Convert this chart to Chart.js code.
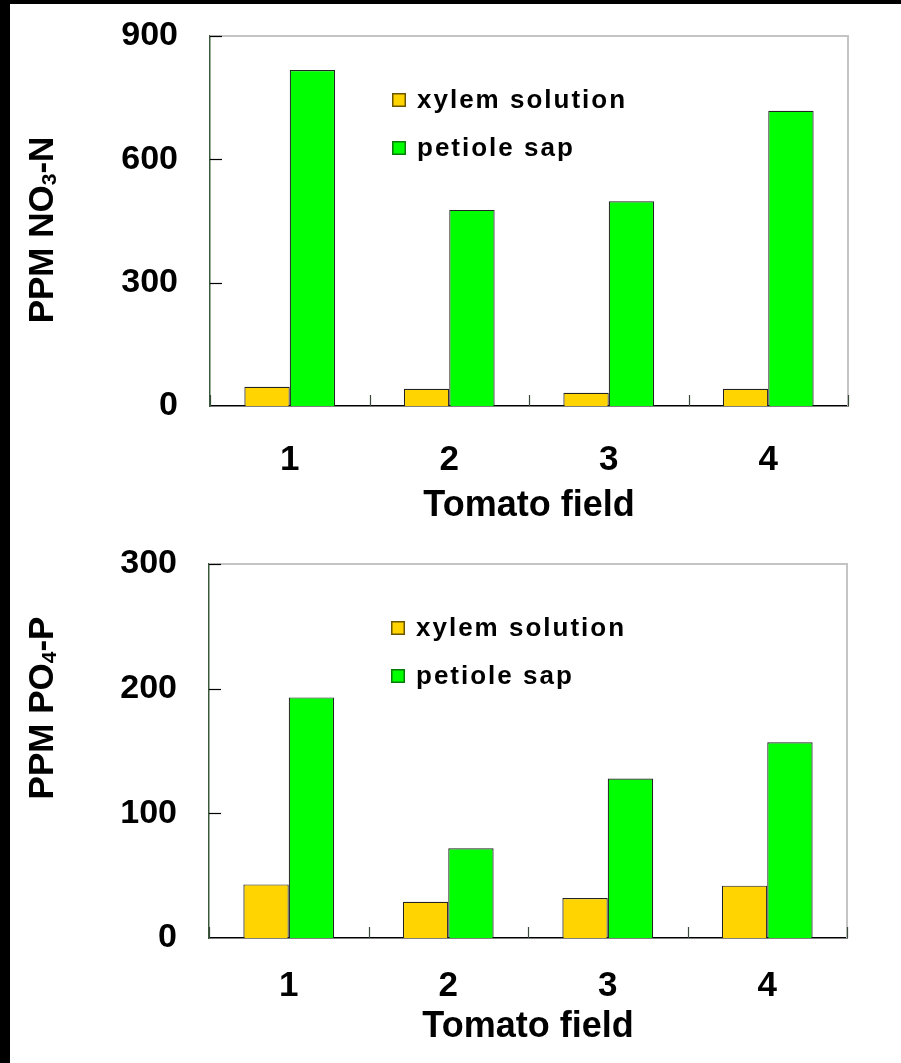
<!DOCTYPE html>
<html><head><meta charset="utf-8">
<script src="https://cdn.jsdelivr.net/npm/chart.js@4.4.1/dist/chart.umd.min.js"></script>
<style>
html,body{margin:0;padding:0;background:#000;}
#page{position:relative;width:901px;height:1063px;background:#000;overflow:hidden;}
#paper{position:absolute;left:10px;top:4px;right:0;bottom:0;background:#fff;}
canvas{position:absolute;left:0;}
#c1{top:0}
#c2{top:532px}
</style></head><body>
<div id="page"><div id="paper"></div>
<canvas id="c1" width="901" height="532"></canvas>
<canvas id="c2" width="901" height="531"></canvas>
</div>
<script>
const categories = ['1', '2', '3', '4'];
const seriesNames = ['xylem solution', 'petiole sap'];
const xylemNO3 = [47, 42, 32, 42];
const petioleNO3 = [817, 477, 498, 718];
const xylemPO4 = [43, 29, 32, 42];
const petiolePO4 = [193, 72, 128, 157];
const ticksNO3 = [0, 300, 600, 900];
const ticksPO4 = [0, 100, 200, 300];
const yTitleNO3 = ['PPM NO', '3', '-N'];
const yTitlePO4 = ['PPM PO', '4', '-P'];
const xTitle = 'Tomato field';

const FONT = "'Liberation Sans', Arial, Helvetica, sans-serif";
const colors = ['#FFD400', '#00FF00'];
const legendBorders = ['#6b5500', '#0a7a0a'];

const decor = {
  id: 'decor',
  beforeDatasetsDraw(chart, args, o) {
    const {ctx, chartArea: a} = chart;
    ctx.save();
    ctx.strokeStyle = '#c4c4c4';
    ctx.lineWidth = 2;
    ctx.beginPath();
    ctx.moveTo(a.left, a.top);
    ctx.lineTo(a.right, a.top);
    ctx.lineTo(a.right, a.bottom);
    ctx.stroke();
    ctx.restore();
  },
  afterDatasetsDraw(chart, args, o) {
    const {ctx, chartArea: a, scales} = chart;
    ctx.save();
    // y tick marks (inside)
    ctx.strokeStyle = '#000';
    ctx.lineWidth = 1.2;
    scales.y.ticks.forEach(t => {
      const py = Math.round(scales.y.getPixelForValue(t.value)) + 0.5;
      if (Math.abs(py - a.bottom) < 2) return;
      ctx.beginPath();
      ctx.moveTo(a.left, py);
      ctx.lineTo(a.left + 12, py);
      ctx.stroke();
    });
    // x tick marks between categories (pointing up)
    ctx.strokeStyle = '#3a4a3a';
    const n = chart.data.labels.length;
    const step = (scales.x.getPixelForTick(1) - scales.x.getPixelForTick(0));
    for (let i = 0; i <= n; i++) {
      const px = Math.round(scales.x.getPixelForTick(0) - step / 2 + i * step) + 0.5;
      ctx.beginPath();
      ctx.moveTo(px, a.bottom);
      ctx.lineTo(px, a.bottom - 11);
      ctx.stroke();
    }
    // legend
    chart.data.datasets.forEach((ds, i) => {
      const cy = a.top + o.legendTop + i * o.legendGap;
      const sx = a.left + o.legendLeft;
      ctx.fillStyle = ds.backgroundColor;
      ctx.fillRect(sx, cy - 7, 14, 14);
      ctx.strokeStyle = legendBorders[i];
      ctx.lineWidth = 1.5;
      ctx.strokeRect(sx + 0.75, cy - 6.25, 12.5, 12.5);
      ctx.fillStyle = '#000';
      ctx.font = 'bold 26px ' + FONT;
      ctx.letterSpacing = '2px';
      ctx.textBaseline = 'middle';
      ctx.textAlign = 'left';
      ctx.fillText(ds.label, sx + 25, cy + 1);
    });
    ctx.restore();
  },
  afterDraw(chart, args, o) {
    const {ctx} = chart;
    const parts = o.yTitle;
    ctx.save();
    ctx.translate(o.yTitleX, o.yTitleY);
    ctx.rotate(-Math.PI / 2);
    ctx.fillStyle = '#000';
    ctx.textBaseline = 'alphabetic';
    ctx.textAlign = 'left';
    const big = 'bold 35px ' + FONT, small = 'bold 21px ' + FONT;
    ctx.font = big; const w0 = ctx.measureText(parts[0]).width;
    ctx.font = small; const w1 = ctx.measureText(parts[1]).width;
    ctx.font = big; const w2 = ctx.measureText(parts[2]).width;
    let x = -(w0 + w1 + w2) / 2;
    const base = 12.5;
    ctx.font = big; ctx.fillText(parts[0], x, base); x += w0;
    ctx.font = small; ctx.fillText(parts[1], x, base + 3); x += w1;
    ctx.font = big; ctx.fillText(parts[2], x, base);
    ctx.restore();
  }
};

function makeChart(id, xy, pet, ticks, yTitle, dims) {
  return new Chart(document.getElementById(id), {
    type: 'bar',
    data: {
      labels: categories,
      datasets: [
        {label: seriesNames[0], data: xy, backgroundColor: colors[0], borderColor: '#222', borderWidth: 1.2},
        {label: seriesNames[1], data: pet, backgroundColor: colors[1], borderColor: '#222', borderWidth: 1.2}
      ]
    },
    options: {
      responsive: false,
      animation: false,
      devicePixelRatio: 1,
      layout: {padding: {top: dims.top, right: dims.right, bottom: 0, left: 0}},
      datasets: {bar: {barPercentage: 1.0, categoryPercentage: 0.569}},
      plugins: {
        legend: {display: false},
        tooltip: {enabled: false},
        decor: {legendTop: 64, legendGap: 48, legendLeft: 182, yTitle: yTitle, yTitleX: 40, yTitleY: dims.titleY}
      },
      scales: {
        x: {
          offset: true,
          afterFit: s => { s.height = dims.xh; s.paddingLeft = 0; s.paddingRight = 0; },
          grid: {display: false, drawTicks: false},
          border: {display: true, color: '#000', width: 1.5},
          ticks: {padding: dims.xpad, color: '#000', font: {family: FONT, size: 35, weight: 'bold'}},
          title: {display: true, text: xTitle, color: '#000', font: {family: FONT, size: 36, weight: 'bold'}, padding: {top: 0, bottom: dims.tpad}}
        },
        y: {
          min: ticks[0],
          max: ticks[ticks.length - 1],
          afterBuildTicks: s => { s.ticks = ticks.map(v => ({value: v})); },
          afterFit: s => { s.width = dims.yw; s.paddingTop = 0; s.paddingBottom = 0; },
          grid: {display: false, drawTicks: false},
          border: {display: true, color: '#3a5a3a', width: 1.5},
          ticks: {padding: 32, color: '#000', font: {family: FONT, size: 34, weight: 'bold'}}
        }
      }
    },
    plugins: [decor]
  });
}

makeChart('c1', xylemNO3, petioleNO3, ticksNO3, yTitleNO3, {top: 36, right: 53, xh: 126, yw: 210, xpad: 33, tpad: 4, titleY: 230});
makeChart('c2', xylemPO4, petiolePO4, ticksPO4, yTitlePO4, {top: 32, right: 54, xh: 125, yw: 209, xpad: 27, tpad: 14, titleY: 176});
</script>
</body></html>
